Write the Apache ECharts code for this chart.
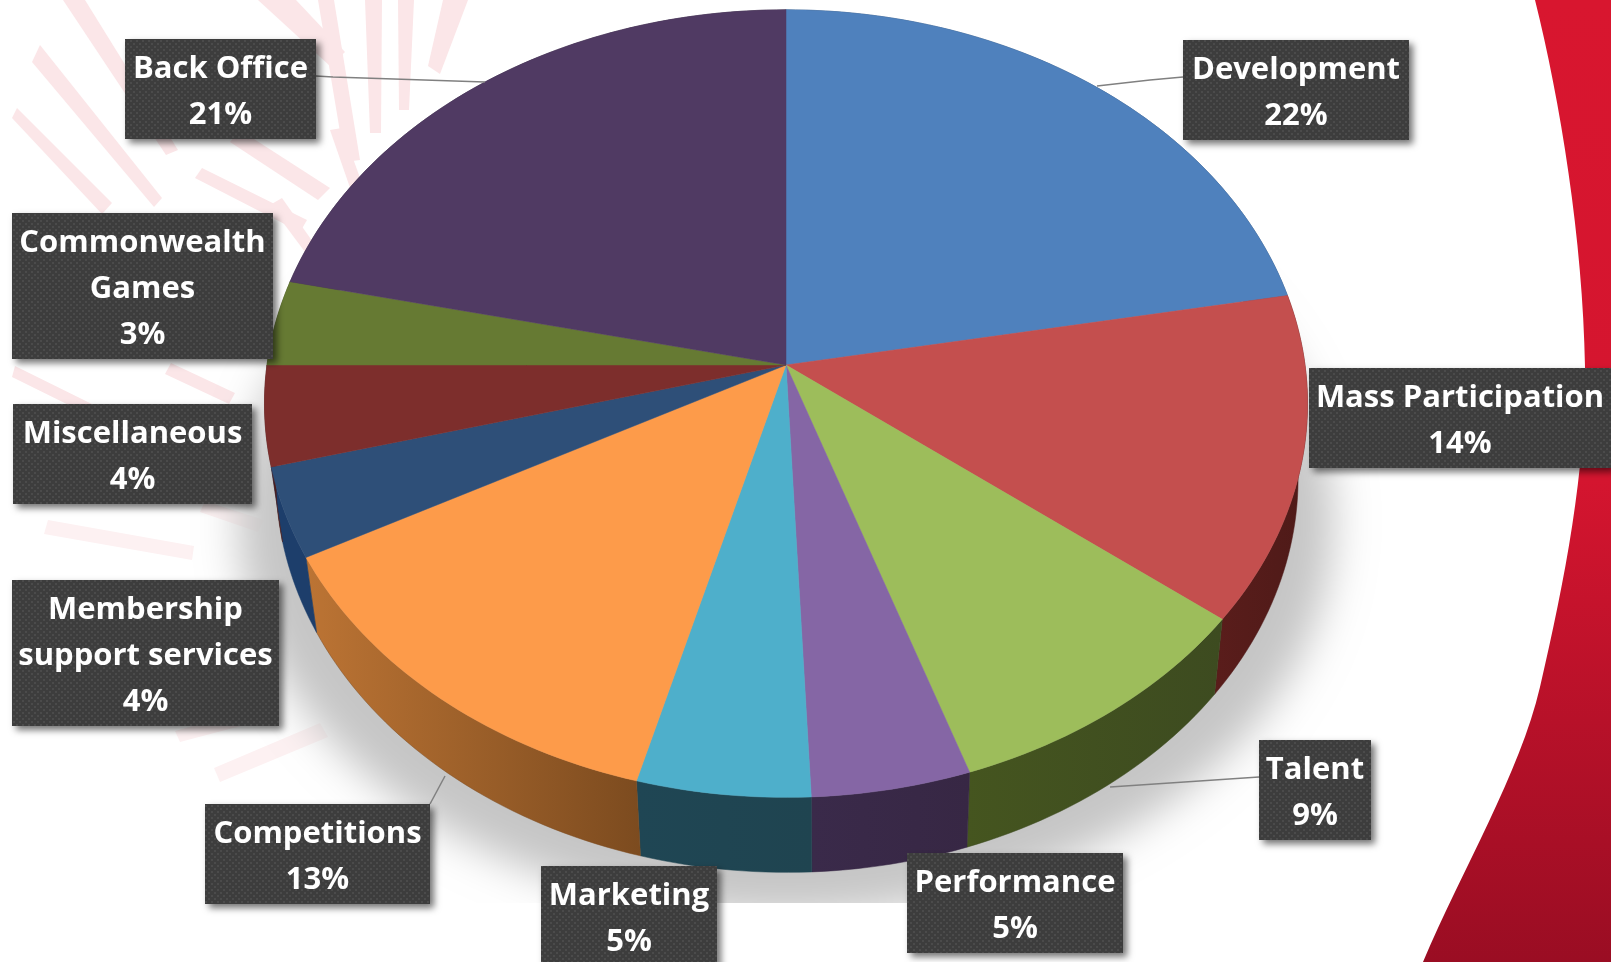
<!DOCTYPE html>
<html>
<head>
<meta charset="utf-8">
<title>Budget split</title>
<style>
html, body { margin: 0; padding: 0; background: #fff; overflow: hidden; }
#chart { width: 1611px; height: 962px; }
</style>
<script src="https://cdn.jsdelivr.net/npm/echarts@6/dist/echarts.min.js"></script>
</head>
<body>
<div id="chart"></div>
<script>
// values, the printed labels are the rounded ones
var categories = ["Development", "Mass Participation", "Talent", "Performance", "Marketing",
    "Competitions", "Membership\nsupport services", "Miscellaneous", "Commonwealth\nGames", "Back Office"];
var shares = [22.1, 13.4, 9.3, 4.5, 4.9, 13.0, 3.7, 4.1, 3.5, 21.5];
var percentLabels = ["22%", "14%", "9%", "5%", "5%", "13%", "4%", "4%", "3%", "21%"];

var topColors = ["#4f81bd", "#c44f4e", "#9dbd5b", "#8566a5", "#4eafcb", "#fd9b4a", "#2e4f78", "#7d2e2c", "#667a33", "#503a63"];
var wallColors = [
    ["#2f4d71", "#2f4d71"], ["#5a1d1b", "#4e1a18"], ["#45551f", "#3d4b20"], ["#3a2a4a", "#372744"], ["#1f4654", "#1f4450"],
    ["#bc7434", "#7c4b1f"], ["#1d3e6b", "#1d3e6b"], ["#4c1c1b", "#4c1c1b"], ["#3f4e20", "#3f4e20"], ["#33273f", "#33273f"]
];

// label boxes: x, y, w, h
var boxes = [
    [1183, 40, 226, 100], [1309, 368, 302, 100], [1259, 740, 112, 100], [907, 853, 216, 100], [541, 866, 176, 100],
    [205, 804, 225, 100], [12, 580, 267, 146], [13, 404, 239, 100], [12, 213, 261, 146], [125, 39, 191, 100]
];
var leaders = [
    [[1183, 77], [1150, 80], [1097, 86]],
    [[1259, 777], [1110, 787]],
    [[430, 804], [445, 776]],
    [[316, 76], [333, 77], [485, 82]]
];
var rays = [
    [[63, 0], [85, 0], [178, 150], [166, 155]], [[32, 62], [40, 45], [162, 198], [154, 207]],
    [[12, 118], [17, 108], [112, 203], [102, 214]], [[195, 178], [202, 168], [307, 220], [300, 232]],
    [[318, 0], [334, 0], [360, 160], [345, 162]], [[365, 0], [382, 0], [381, 133], [370, 133]],
    [[398, 0], [414, 0], [409, 110], [399, 110]], [[443, 0], [468, 0], [440, 74], [428, 66]],
    [[258, 0], [296, 0], [345, 52], [330, 66]], [[230, 142], [240, 130], [330, 188], [318, 200]],
    [[330, 130], [342, 128], [368, 200], [356, 205]], [[270, 205], [282, 198], [315, 245], [305, 252]],
    [[44, 534], [48, 520], [194, 546], [192, 560]], [[200, 512], [205, 501], [264, 520], [258, 532]],
    [[220, 782], [214, 768], [320, 723], [328, 737]], [[180, 742], [175, 731], [250, 710], [256, 722]],
    [[12, 377], [15, 366], [100, 408], [95, 418]], [[165, 374], [171, 363], [235, 393], [229, 404]]
];
var bandPath = "M1535 0 C1560 100 1583 240 1585 367 C1586 470 1565 580 1540 687 C1520 773 1462 870 1423 962 L1611 962 L1611 0 Z";

var cx = 786, cy = 365, rx = 519, ry = 390, persp = 0.098;
var wallDrop = 75, wallScale = 0.98, wallCx = 787;

function project(pct) {
    var a = pct / 100 * Math.PI * 2;
    var x = Math.sin(a), y = -Math.cos(a);
    var d = 1 - persp * y;
    return [cx + rx * x / d, cy + ry * y / d];
}
function projectLow(pct) {
    var p = project(pct);
    return [wallCx + (p[0] - cx) * wallScale, p[1] + wallDrop];
}
function arc(from, to, fn) {
    var pts = [], n = Math.max(2, Math.ceil((to - from) * 3));
    for (var i = 0; i <= n; i++) {
        pts.push(fn(from + (to - from) * i / n));
    }
    return pts;
}
var starts = [];
(function () {
    var sum = 0;
    for (var i = 0; i < shares.length; i++) {
        starts.push(sum);
        sum += shares[i];
    }
})();

function dotPattern() {
    var c = document.createElement("canvas");
    c.width = 6;
    c.height = 6;
    var g = c.getContext("2d");
    g.fillStyle = "#3d3d3d";
    g.fillRect(0, 0, 6, 6);
    g.fillStyle = "#4b4b4b";
    g.fillRect(1, 1, 2, 2);
    g.fillRect(4, 4, 2, 2);
    return c;
}
var boxFill = { image: dotPattern(), repeat: "repeat" };

function renderBackdrop() {
    var children = [{
        type: "path",
        shape: { pathData: bandPath },
        style: {
            fill: new echarts.graphic.LinearGradient(0, 0, 0, 1, [
                { offset: 0, color: "#d8162f" },
                { offset: 0.5, color: "#d4152f" },
                { offset: 1, color: "#9a0d23" }
            ])
        }
    }];
    rays.forEach(function (r) {
        children.push({ type: "polygon", shape: { points: r }, style: { fill: r[0][1] > 500 ? "#fdf1f2" : "#fbe6e8" } });
    });
    return { type: "group", children: children };
}
function renderShadow() {
    // the shape sits off the canvas, only its blurred shadow shows
    var pts = arc(0, 100, project).map(function (p) {
        return [cx + (p[0] - cx) * 1.05 - 3000, p[1] + 118];
    });
    return {
        type: "group",
        children: [
            {
                type: "polygon",
                shape: { points: pts },
                style: { fill: "#c8c8c8", shadowBlur: 40, shadowOffsetX: 3000, shadowColor: "#c6c6c6" }
            },
            {
                type: "rect",
                shape: { x: 0, y: 903, width: 1400, height: 59 },
                style: { fill: "#fff" }
            }
        ]
    };
}
function renderWall(params, api) {
    var i = params.dataIndex, from = starts[i], to = from + api.value(0);
    var pts = arc(from, to, project).concat(arc(from, to, projectLow).reverse());
    return {
        type: "polygon",
        shape: { points: pts },
        style: {
            fill: new echarts.graphic.LinearGradient(0, 0, 1, 0, [
                { offset: 0, color: wallColors[i][0] },
                { offset: 1, color: wallColors[i][1] }
            ]),
            stroke: wallColors[i][1],
            lineWidth: 0.5
        }
    };
}
function renderTop(params, api) {
    var i = params.dataIndex, from = starts[i], to = from + api.value(0);
    var pts = [[cx, cy]].concat(arc(from, to, project));
    return {
        type: "polygon",
        shape: { points: pts },
        style: { fill: topColors[i], stroke: topColors[i], lineWidth: 0.5 }
    };
}
function renderLeaders() {
    return {
        type: "group",
        children: leaders.map(function (l) {
            return { type: "polyline", shape: { points: l }, style: { stroke: "#808080", lineWidth: 1.5, fill: null } };
        })
    };
}
function renderLabel(params) {
    var i = params.dataIndex, b = boxes[i];
    return {
        type: "group",
        children: [
            {
                type: "rect",
                shape: { x: b[0], y: b[1], width: b[2], height: b[3] },
                style: {
                    fill: boxFill,
                    shadowBlur: 7,
                    shadowOffsetX: 4,
                    shadowOffsetY: 4,
                    shadowColor: "rgba(0,0,0,0.55)"
                }
            },
            {
                type: "text",
                x: b[0] + b[2] / 2,
                y: b[1] + b[3] / 2 + 3,
                style: {
                    text: categories[i] + "\n" + percentLabels[i],
                    fill: "#fff",
                    font: "700 31px 'Open Sans'",
                    lineHeight: 46,
                    align: "center",
                    verticalAlign: "middle"
                }
            }
        ]
    };
}

var chart = echarts.init(document.getElementById("chart"));
chart.setOption({
    animation: false,
    backgroundColor: "#fff",
    series: [
        { type: "custom", coordinateSystem: "none", z: 0, silent: true, data: [1], renderItem: renderBackdrop },
        { type: "custom", coordinateSystem: "none", z: 1, silent: true, data: [1], renderItem: renderShadow },
        { type: "custom", coordinateSystem: "none", z: 2, silent: true, data: shares, renderItem: renderWall },
        { type: "custom", coordinateSystem: "none", z: 3, silent: true, data: shares, renderItem: renderTop },
        { type: "custom", coordinateSystem: "none", z: 4, silent: true, data: [1], renderItem: renderLeaders },
        { type: "custom", coordinateSystem: "none", z: 5, silent: true, data: shares, renderItem: renderLabel }
    ]
});
</script>
</body>
</html>
